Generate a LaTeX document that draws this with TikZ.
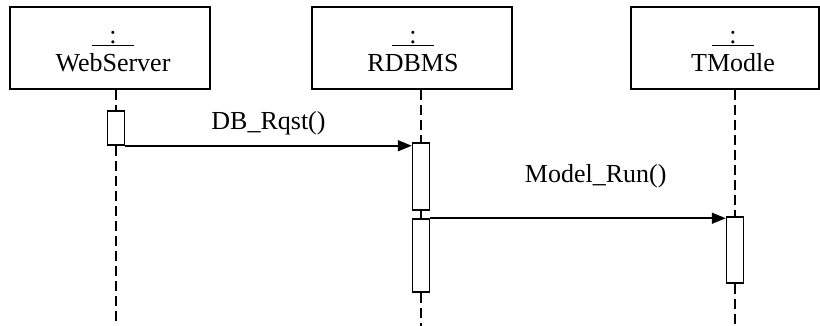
\documentclass[tikz,border=0pt]{standalone}
\usepackage{fontspec}
\setmainfont{Liberation Serif}
\usetikzlibrary{arrows.meta,positioning,calc}

\newcommand{\objcolon}{\underline{\makebox[42pt]{:}}}

\begin{document}
\begin{tikzpicture}[
    x=1pt, y=1pt,
    font=\fontsize{26}{28}\selectfont,
    >={Triangle[length=14pt, width=11pt]},
    objbox/.style={draw, line width=1.6pt, minimum height=82pt, inner sep=0pt},
    objname/.style={align=center, inner sep=0pt, anchor=south},
    act/.style={draw, line width=1.5pt, fill=white, minimum width=17pt, inner sep=0pt},
    life/.style={line width=2pt, dash pattern=on 10pt off 5pt},
    msg/.style={->, line width=1.6pt},
    msglabel/.style={inner sep=0pt},
]
    \useasboundingbox (0,0) rectangle (820,-326);

    % --- Objects ---
    \node[objbox, minimum width=200pt] (web) at (110,-48) {};
    \node[objbox, minimum width=200pt] (db) at (412,-48) {};
    \node[objbox, minimum width=188pt] (tm) at (725,-48) {};

    \node[objname] (webname) at (113,-72) {\objcolon\\WebServer};
    \node[objname] (dbname) at (413,-72) {\objcolon\\RDBMS};
    \node[objname] (tmname) at (733,-72) {\objcolon\\TModle};

    % --- Activations ---
    \node[act, minimum height=34pt] (a1) at (116,-128) {};
    \node[act, minimum height=67pt] (a2) at (421,-176.5) {};
    \node[act, minimum height=73pt] (a3) at (421,-255.5) {};
    \node[act, minimum height=66pt] (a4) at (735,-250) {};

    % lifeline ends
    \coordinate (webend) at (116,-326);
    \coordinate (dbend) at (421,-326);
    \coordinate (tmend) at (735,-326);

    % --- Lifelines ---
    \draw[life] (web.south -| a1) -- (a1.north);
    \draw[life] (a1.south) -- (webend);
    \draw[life] (db.south -| a2) -- (a2.north);
    \draw[life] (a2.south) -- (a3.north);
    \draw[life] (a3.south) -- (dbend);
    \draw[life] (tm.south -| a4) -- (a4.north);
    \draw[life] (a4.south) -- (tmend);

    % --- Messages ---
    \draw[msg] (a1.south east) -- (a1.south east -| a2.west)
        node[msglabel, midway, above=10pt] {DB\_Rqst()};
    \draw[msg] (a3.north east) -- (a3.north east -| a4.west)
        node[msglabel, pos=0.56, above=29pt] {Model\_Run()};

\end{tikzpicture}
\end{document}
